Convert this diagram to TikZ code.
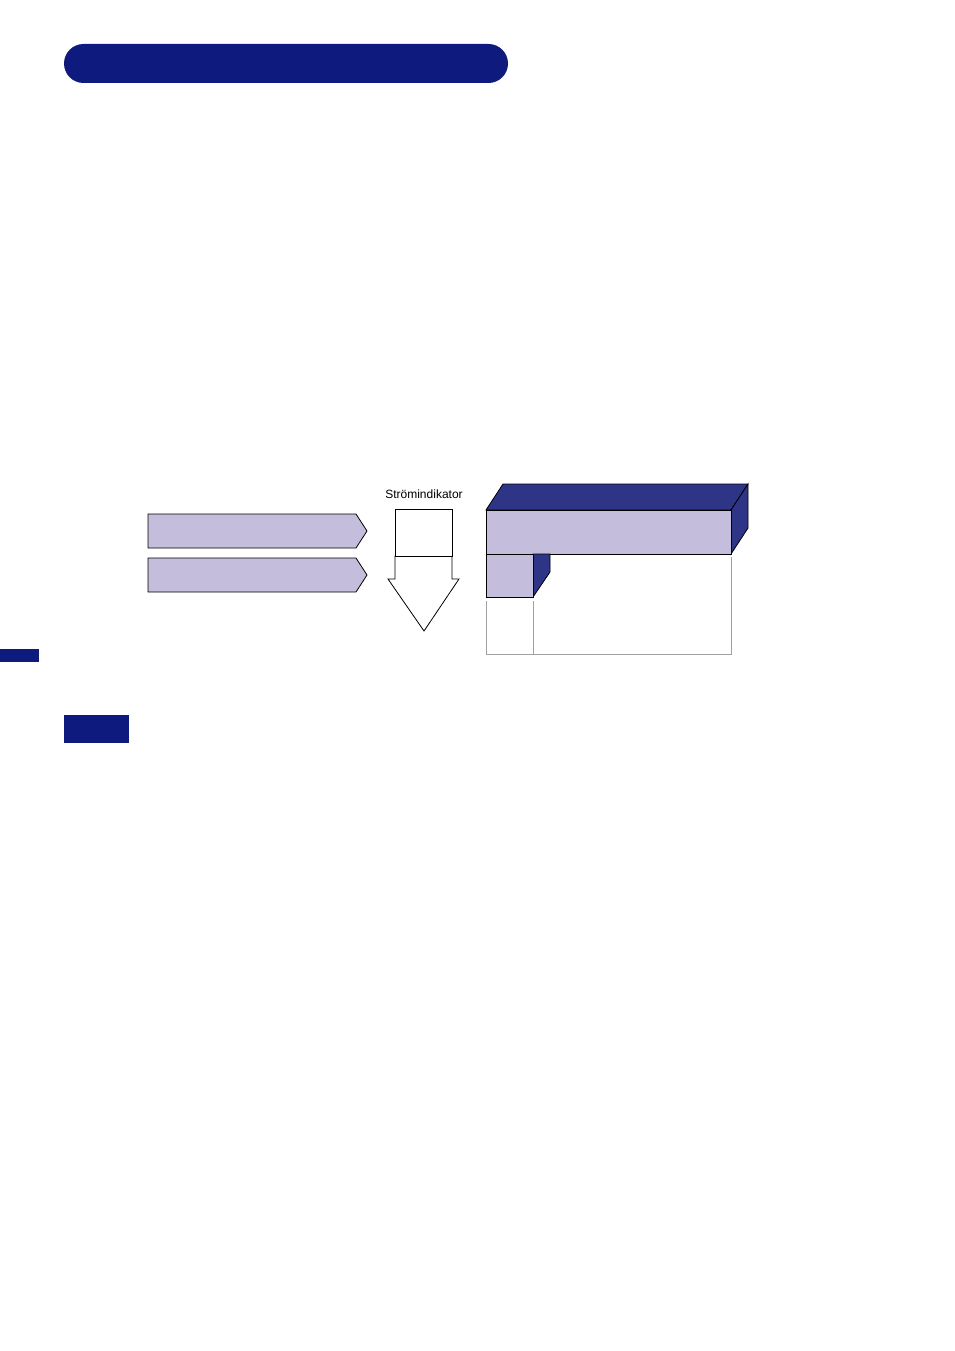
\documentclass[tikz,border=0pt]{standalone}
\usepackage{fontspec}
\setmainfont{Liberation Sans}
\definecolor{navy}{HTML}{0F1A7E}
\definecolor{darkface}{HTML}{2E3587}
\definecolor{lightface}{HTML}{C4BEDC}
\definecolor{lgray}{HTML}{A0A0A0}
\begin{document}
\begin{tikzpicture}[x=1pt,y=-1pt,
  edge/.style={draw=black,line width=0.8pt,line join=miter},
  faint/.style={draw=lgray,line width=0.9pt}]
\useasboundingbox (0,0) rectangle (954,1351);
% header pill
\fill[navy,rounded corners=19.5pt] (64,44) rectangle (508,83);
\node[coordinate] (pill) at (286,63) {};
% side tab and small box
\fill[navy] (0,649) rectangle (39,662);
\fill[navy] (64,715) rectangle (129,743);
% pentagon arrows
\draw[edge,fill=lightface] (148,514) -- (356,514) -- (367,531) -- (356,548) -- (148,548) -- cycle;
\draw[edge,fill=lightface] (148,558) -- (356,558) -- (367,575) -- (356,592) -- (148,592) -- cycle;
% flow indicator
\node[inner sep=0pt] (lbl) at (424,494) {\fontsize{12}{13}\selectfont Strömindikator};
\draw[edge,fill=white] (395,556) -- (452,556) -- (452,579) -- (459,579) -- (424,631) -- (388,579) -- (395,579) -- cycle;
\draw[edge,fill=white] (395,509) rectangle (452,556);
% 3D block
\draw[edge,fill=darkface] (486,510) -- (503,484) -- (748,484) -- (731,510) -- cycle;
\draw[edge,fill=darkface] (731,510) -- (748,484) -- (748,528) -- (731,554) -- cycle;
\draw[edge,fill=lightface] (486,510) rectangle (731,554);
\draw[edge,fill=darkface] (533,554) -- (550,554) -- (550,572) -- (533,597) -- cycle;
\draw[edge,fill=lightface] (486,554) rectangle (533,597);
% gray outline
\draw[faint] (486,601) -- (486,654) -- (731,654) -- (731,557);
\draw[faint] (533,601) -- (533,654);
\end{tikzpicture}
\end{document}
